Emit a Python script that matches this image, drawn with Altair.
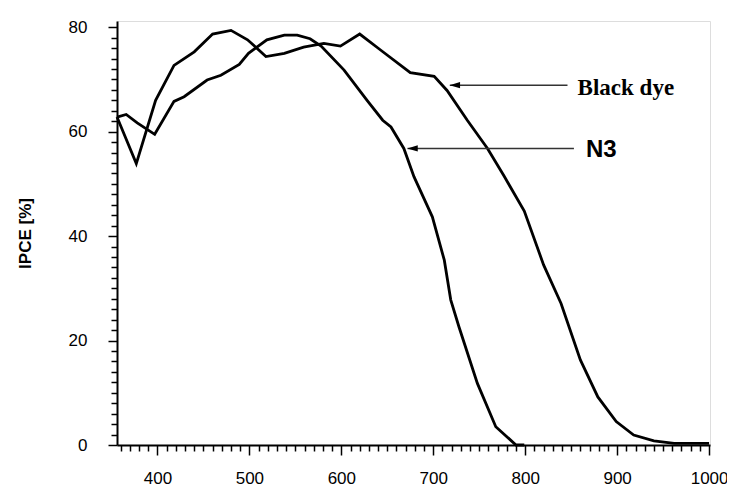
import altair as alt
import pandas as pd

# Black dye IPCE curve
black_nm = [356, 377, 398, 418, 440, 460, 480, 498, 518, 538, 559, 581, 599, 620, 643,
            675, 701, 715, 737, 759, 777, 799, 820, 839, 860, 879, 899, 918, 940, 962, 1000]
black_ipce = [62.8, 53.9, 66.0, 72.7, 75.3, 78.7, 79.4, 77.6, 74.4, 75.0, 76.2, 76.9, 76.4, 78.7, 75.6,
              71.3, 70.6, 67.9, 62.2, 56.8, 51.5, 44.8, 34.5, 27.1, 16.3, 9.2, 4.5, 1.9, 0.8, 0.3, 0.3]

# N3 IPCE curve
n3_nm = [356, 366, 378, 397, 418, 429, 454, 469, 489, 499, 519, 538, 552, 566, 578, 603, 628,
         645, 654, 668, 679, 699, 712, 719, 728, 748, 768, 790, 799]
n3_ipce = [62.8, 63.3, 61.7, 59.5, 65.8, 66.7, 69.9, 70.8, 72.9, 75.0, 77.6, 78.5, 78.5, 77.8, 76.4, 71.8, 66.0,
           62.2, 60.9, 56.8, 51.4, 43.7, 35.4, 27.8, 22.6, 11.8, 3.5, 0.0, 0.0]

# annotation labels with arrows (data coordinates)
ann_label = ["Black dye", "N3"]
ann_tip_nm = [718, 672]
ann_tail_nm = [846, 853]
ann_arrow_val = [68.9, 56.8]
ann_text_nm = [857, 866]
ann_text_val = [67.1, 55.2]

x_ticks = list(range(360, 1001, 10))
y_ticks = list(range(0, 81, 2))

df = pd.concat([
    pd.DataFrame({"nm": black_nm, "ipce": black_ipce, "dye": "Black dye", "i": range(len(black_nm))}),
    pd.DataFrame({"nm": n3_nm, "ipce": n3_ipce, "dye": "N3", "i": range(len(n3_nm))}),
])
ann = pd.DataFrame({"label": ann_label, "tip": ann_tip_nm, "tail": ann_tail_nm,
                    "val": ann_arrow_val, "tx": ann_text_nm, "tv": ann_text_val})

xscale = alt.Scale(domain=[356, 1001], nice=False, zero=False)
yscale = alt.Scale(domain=[0, 81.2], nice=False, zero=False)

xaxis = alt.Axis(
    values=x_ticks, tickCount=200, format="d", grid=False, title=None,
    labelExpr="datum.value % 100 === 0 ? datum.label : ''",
    tickSize={"condition": {"test": "datum.value % 100 === 0", "value": 10}, "value": 6},
    tickColor="black", tickWidth=1.5, domainColor="black", domainWidth=2,
    labelFont="Liberation Sans", labelFontSize=17, labelColor="black",
    labelPadding=15, labelOverlap=False, labelFlush=False,
)
yaxis = alt.Axis(
    values=y_ticks, tickCount=200, format="d", grid=False, title="IPCE [%]",
    labelExpr="datum.value % 20 === 0 ? datum.label : ''",
    tickSize={"condition": {"test": "datum.value % 20 === 0", "value": 9}, "value": 6},
    tickColor="black", tickWidth=1.5, domainColor="black", domainWidth=2,
    labelFont="Liberation Sans", labelFontSize=17, labelColor="black",
    labelPadding=21, labelOverlap=False, labelFlush=False,
    titleFont="Liberation Sans", titleFontSize=17, titleFontWeight="bold", titleColor="black",
    titleAngle=270, titleX=-92, titleY=212, titleAlign="center", titleBaseline="middle",
)

lines = alt.Chart(df).mark_line(color="black", strokeWidth=2.8).encode(
    x=alt.X("nm:Q", scale=xscale, axis=xaxis),
    y=alt.Y("ipce:Q", scale=yscale, axis=yaxis),
    detail="dye:N",
    order="i:Q",
)

base_ann = alt.Chart(ann)
arrow_lines = base_ann.mark_rule(color="#333333", strokeWidth=1.5).encode(
    x=alt.X("tip:Q", scale=xscale), x2="tail:Q", y=alt.Y("val:Q", scale=yscale)
)
arrow_heads = base_ann.mark_point(
    shape="M -1 0 L 1 -0.6 L 1 0.6 Z", filled=True, color="black", size=110, opacity=1, xOffset=5
).encode(x=alt.X("tip:Q", scale=xscale), y=alt.Y("val:Q", scale=yscale))

text_black = base_ann.transform_filter("datum.label === 'Black dye'").mark_text(
    font="Liberation Serif", fontWeight="bold", fontSize=23, align="left", baseline="alphabetic", color="black"
).encode(x=alt.X("tx:Q", scale=xscale), y=alt.Y("tv:Q", scale=yscale), text="label:N")
text_n3 = base_ann.transform_filter("datum.label === 'N3'").mark_text(
    font="Liberation Sans", fontWeight="bold", fontSize=24, align="left", baseline="alphabetic", color="black"
).encode(x=alt.X("tx:Q", scale=xscale), y=alt.Y("tv:Q", scale=yscale), text="label:N")

chart = alt.layer(lines, arrow_lines, arrow_heads, text_black, text_n3).properties(
    width=593, height=424,
    autosize=alt.AutoSizeParams(type="none"),
    padding={"left": 109, "top": 13, "right": 17, "bottom": 45},
).configure_view(stroke="black", strokeWidth=2).configure(background="white")

chart.save("out.html", embed_options={"renderer": "svg", "actions": False})
